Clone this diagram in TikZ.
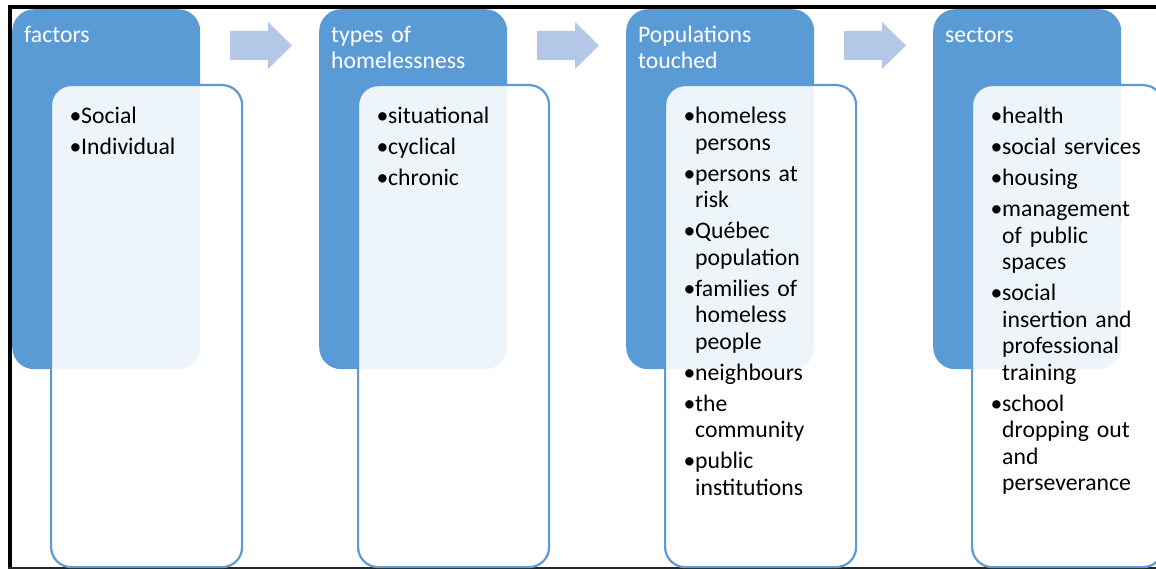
\documentclass[tikz,border=0pt]{standalone}
\usepackage{fontspec}
\setmainfont{Carlito}
\definecolor{accent}{HTML}{5B9BD5}
\definecolor{arrowblue}{HTML}{B4C7E7}
% bullet with hanging indent for list entries
\newcommand\bulletmark{\makebox[11.5pt][l]{•}}
\newcommand\hangin{\hspace*{11.5pt}}
\newcommand\gap{\\[4.5pt]}
\begin{document}
\begin{tikzpicture}[x=1pt,y=-1pt,
  headbox/.style={fill=accent, rounded corners=22pt, minimum width=188pt,
    minimum height=360pt, anchor=north west, inner sep=0pt},
  listbox/.style={draw=accent, line width=2.2pt, fill=white, fill opacity=0.9,
    rounded corners=20pt, minimum width=191pt, minimum height=482pt,
    anchor=north west, inner sep=0pt},
  headtext/.style={text=white, inner sep=0pt, anchor=base west, align=left,
    text width=176pt, font=\fontsize{23.7}{26.5}\selectfont},
  listtext/.style={text=black, inner sep=0pt, anchor=base west, align=left,
    text width=180pt, font=\fontsize{23.7}{26.5}\selectfont},
  flowarrow/.style={fill=arrowblue}]
\useasboundingbox (0,0) rectangle (1156,569);
\clip (0,0) rectangle (1156,569);

% outer frame
\draw[line width=3.5pt, line join=miter] (10,569) -- (10,7) -- (1156,7);
\draw[line width=2pt, black!85] (8,568) -- (1156,568);

% header panels
\node[headbox] (h1) at (12,9) {};
\node[headbox] (h2) at (319,9) {};
\node[headbox] (h3) at (626,9) {};
\node[headbox] (h4) at (933,9) {};

% list panels
\node[listbox] (b1) at (50,84) {};
\node[listbox] (b2) at (357,84) {};
\node[listbox] (b3) at (664,84) {};
\node[listbox] (b4) at (971,84) {};

% block arrows between the stages
\foreach \k in {0,1,2}{
  \begin{scope}[xshift=\k*307pt]
    \fill[flowarrow] (230,31) -- (268,31) -- (268,22) -- (292,45.5)
      -- (268,69) -- (268,60) -- (230,60) -- cycle;
  \end{scope}
}

% headings
\node[headtext] (t1) at (24,42.5) {factors};
\node[headtext] (t2) at (331,42.5) {types of\\homelessness};
\node[headtext] (t3) at (638,42.5) {Populations\\touched};
\node[headtext] (t4) at (945,42.5) {sectors};

% lists
\node[listtext] (l1) at (69.5,124) {\bulletmark Social\gap
  \bulletmark Individual};
\node[listtext] (l2) at (376.5,124) {\bulletmark situational\gap
  \bulletmark cyclical\gap
  \bulletmark chronic};
\node[listtext] (l3) at (683.5,124) {\bulletmark homeless\\\hangin persons\gap
  \bulletmark persons at\\\hangin risk\gap
  \bulletmark Québec\\\hangin population\gap
  \bulletmark families of\\\hangin homeless\\\hangin people\gap
  \bulletmark neighbours\gap
  \bulletmark the\\\hangin community\gap
  \bulletmark public\\\hangin institutions};
\node[listtext] (l4) at (990.5,124) {\bulletmark health\gap
  \bulletmark social services\gap
  \bulletmark housing\gap
  \bulletmark management\\\hangin of public\\\hangin spaces\gap
  \bulletmark social\\\hangin insertion and\\\hangin professional\\\hangin training\gap
  \bulletmark school\\\hangin dropping out\\\hangin and\\\hangin perseverance};
\end{tikzpicture}
\end{document}
